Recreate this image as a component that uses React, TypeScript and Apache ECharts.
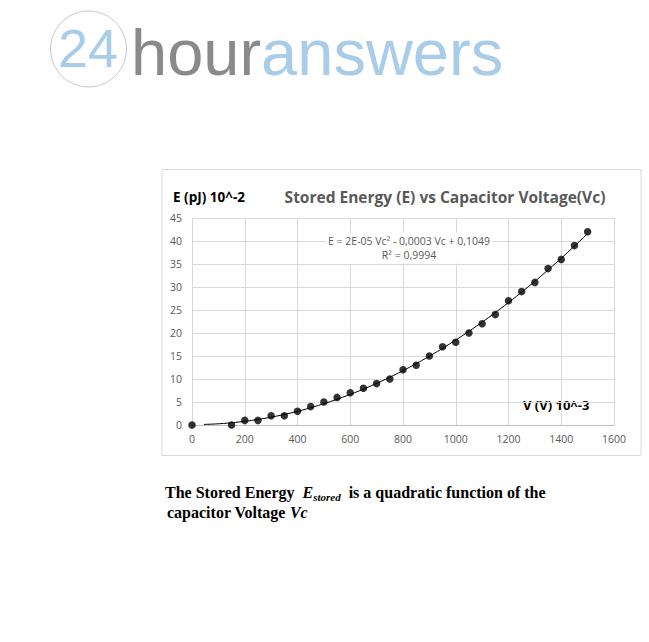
import React, { useEffect, useRef } from "react";
import * as echarts from "echarts";

// Measured capacitor voltage (V, ×10^-3) and stored energy (pJ, ×10^-2)
const voltage = [
  0, 150, 200, 250, 300, 350, 400, 450, 500, 550, 600, 650, 700, 750, 800,
  850, 900, 950, 1000, 1050, 1100, 1150, 1200, 1250, 1300, 1350, 1400, 1450, 1500,
];
const energy = [
  0, 0, 1, 1, 2, 2, 3, 4, 5, 6, 7, 8, 9, 10, 12,
  13, 15, 17, 18, 20, 22, 24, 27, 29, 31, 34, 36, 39, 42,
];

// Axis ranges
const X_MIN = 0;
const X_MAX = 1600;
const X_STEP = 200;
const Y_MIN = 0;
const Y_MAX = 45;
const Y_STEP = 5;

// Trendline range start and texts
const TREND_FROM = 45;
const equationText = "E = 2E-05 Vc² - 0,0003 Vc + 0,1049";
const r2Text = "R² = 0,9994";
const titleText = "Stored Energy (E) vs Capacitor Voltage(Vc)";
const yNameText = "E (pJ) 10^-2";
const xNameText = "V (V) 10^-3";

const UI_FONT = "'Open Sans', 'DejaVu Sans', sans-serif";
const LOGO_FONT = "'Liberation Sans', Arial, sans-serif";
const SERIF_FONT = "'Liberation Serif', 'DejaVu Serif', serif";

// Least-squares quadratic fit (polynomial trendline) of the measurements
function quadraticFit(xs: number[], ys: number[]) {
  const s = 1000; // scale x for numerical stability
  const n = xs.length;
  let sx = 0, sx2 = 0, sx3 = 0, sx4 = 0, sy = 0, sxy = 0, sx2y = 0;
  for (let i = 0; i < n; i++) {
    const x = xs[i] / s;
    const y = ys[i];
    sx += x; sx2 += x * x; sx3 += x * x * x; sx4 += x * x * x * x;
    sy += y; sxy += x * y; sx2y += x * x * y;
  }
  const m = [
    [sx4, sx3, sx2, sx2y],
    [sx3, sx2, sx, sxy],
    [sx2, sx, n, sy],
  ];
  for (let c = 0; c < 3; c++) {
    for (let r = c + 1; r < 3; r++) {
      const f = m[r][c] / m[c][c];
      for (let k = c; k < 4; k++) m[r][k] -= f * m[c][k];
    }
  }
  const sol = [0, 0, 0];
  for (let r = 2; r >= 0; r--) {
    let v = m[r][3];
    for (let k = r + 1; k < 3; k++) v -= m[r][k] * sol[k];
    sol[r] = v / m[r][r];
  }
  const [a, b, c] = sol;
  return (x: number) => a * (x / s) * (x / s) + b * (x / s) + c;
}

export default function App() {
  const ref = useRef<HTMLDivElement>(null);

  useEffect(() => {
    if (!ref.current) return;
    const chart = echarts.init(ref.current, undefined, { renderer: "svg" });

    const fit = quadraticFit(voltage, energy);
    const xEnd = voltage[voltage.length - 1];
    const trend: number[][] = [];
    for (let x = TREND_FROM; x <= xEnd; x += 15) trend.push([x, fit(x)]);
    trend.push([xEnd, fit(xEnd)]);

    const points = voltage.map((v, i) => [v, energy[i]]);

    const axisLabel = {
      color: "#595959",
      fontSize: 10.5,
      fontFamily: UI_FONT,
      formatter: (v: number) => String(v),
    };

    chart.setOption({
      animation: false,
      grid: { left: 192, right: 35, top: 218, bottom: 217 },
      xAxis: {
        type: "value",
        min: X_MIN,
        max: X_MAX,
        interval: X_STEP,
        axisLine: { show: true, onZero: false, lineStyle: { color: "#bfbfbf" } },
        axisTick: { show: false },
        axisLabel: { ...axisLabel, margin: 8 },
        splitLine: { show: true, lineStyle: { color: "#d9d9d9", width: 1 } },
      },
      yAxis: {
        type: "value",
        min: Y_MIN,
        max: Y_MAX,
        interval: Y_STEP,
        axisLine: { show: false },
        axisTick: { show: false },
        axisLabel: { ...axisLabel, margin: 10 },
        splitLine: { show: true, lineStyle: { color: "#d9d9d9", width: 1 } },
      },
      series: [
        {
          type: "line",
          data: trend,
          symbol: "none",
          lineStyle: { color: "#000000", width: 1 },
          silent: true,
          z: 2,
        },
        {
          type: "scatter",
          data: points,
          symbol: "circle",
          symbolSize: 7.5,
          itemStyle: { color: "#000000" },
          z: 3,
        },
      ],
      graphic: [
        // logo
        {
          type: "circle",
          shape: { cx: 88.5, cy: 49, r: 38 },
          style: { fill: "none", stroke: "#c9c9c9", lineWidth: 1 },
        },
        {
          type: "text",
          x: 88,
          y: 48,
          style: {
            text: "24",
            fill: "#a9cde9",
            font: `normal 54px ${LOGO_FONT}`,
            align: "center",
            verticalAlign: "middle",
          },
        },
        {
          type: "text",
          x: 131,
          y: 52,
          style: {
            text: "{g|hour}{b|answers}",
            align: "left",
            verticalAlign: "middle",
            rich: {
              g: { fill: "#8a8a8a", fontSize: 65, fontFamily: LOGO_FONT },
              b: { fill: "#a9cde9", fontSize: 65, fontFamily: LOGO_FONT },
            },
          },
        },
        // chart frame
        {
          type: "rect",
          shape: { x: 162, y: 169.5, width: 479, height: 286 },
          style: { fill: "none", stroke: "#d9d9d9", lineWidth: 1 },
          z: -1,
        },
        {
          type: "text",
          x: 445,
          y: 197,
          style: {
            text: titleText,
            fill: "#595959",
            font: `bold 15.5px ${UI_FONT}`,
            align: "center",
            verticalAlign: "middle",
          },
        },
        {
          type: "text",
          x: 173,
          y: 197,
          style: {
            text: yNameText,
            fill: "#000000",
            font: `bold 13.5px ${UI_FONT}`,
            align: "left",
            verticalAlign: "middle",
          },
        },
        {
          type: "text",
          x: 523,
          y: 405,
          style: {
            text: xNameText,
            fill: "#000000",
            font: `bold 13px ${UI_FONT}`,
            align: "left",
            verticalAlign: "middle",
          },
        },
        {
          type: "text",
          x: 409,
          y: 248,
          z: 10,
          style: {
            text: equationText + "\n" + r2Text,
            fill: "#595959",
            font: `10.5px ${UI_FONT}`,
            lineHeight: 14.5,
            align: "center",
            verticalAlign: "middle",
            backgroundColor: "#ffffff",
            padding: [1, 2, 1, 2],
          },
        },
        // caption below the chart
        {
          type: "text",
          x: 165,
          y: 492,
          style: {
            text: "{t|The Stored Energy  }{e|E}{s|stored}{t|  is a quadratic function of the}",
            verticalAlign: "middle",
            rich: {
              t: { fill: "#000", fontSize: 16, fontWeight: "bold", fontFamily: SERIF_FONT, lineHeight: 20, verticalAlign: "middle" },
              e: { fill: "#000", fontSize: 16, fontWeight: "bold", fontStyle: "italic", fontFamily: SERIF_FONT, lineHeight: 20, verticalAlign: "middle" },
              s: { fill: "#000", fontSize: 11, fontWeight: "bold", fontStyle: "italic", fontFamily: SERIF_FONT, lineHeight: 10, verticalAlign: "bottom" },
            },
          },
        },
        {
          type: "text",
          x: 167,
          y: 512,
          style: {
            text: "{t|capacitor Voltage }{v|Vc}",
            verticalAlign: "middle",
            rich: {
              t: { fill: "#000", fontSize: 16, fontWeight: "bold", fontFamily: SERIF_FONT },
              v: { fill: "#000", fontSize: 16, fontWeight: "bold", fontStyle: "italic", fontFamily: SERIF_FONT },
            },
          },
        },
      ],
    });

    return () => chart.dispose();
  }, []);

  return (
    <div
      ref={ref}
      style={{ position: "absolute", left: 0, top: 0, width: 649, height: 642, background: "#ffffff" }}
    />
  );
}
